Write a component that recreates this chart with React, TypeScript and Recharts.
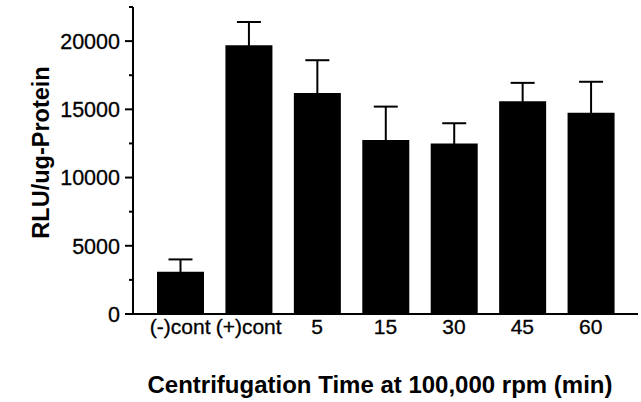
import { BarChart, Bar, XAxis, YAxis, ErrorBar } from 'recharts'

const categories = ['(-)cont', '(+)cont', '5', '15', '30', '45', '60']
const rluMeans = [3100, 19700, 16200, 12750, 12500, 15600, 14750]
const rluUpperErr = [900, 1700, 2400, 2450, 1480, 1340, 2270]
const yTicks = [0, 2500, 5000, 7500, 10000, 12500, 15000, 17500, 20000, 22500]

// only the upper whisker is shown; the lower one is run down to the baseline
// so it hides inside the black bar and under the axis line
const chartData = categories.map((name, i) => ({
  name,
  rlu: rluMeans[i],
  err: [rluMeans[i], rluUpperErr[i]],
}))

const font = '"Liberation Sans", Arial, Helvetica, sans-serif'

function YTick({ x, y, payload }: any) {
  const major = payload.value % 5000 === 0
  return (
    <g>
      <line x1={x - (major ? 8 : 4)} x2={x} y1={y} y2={y} stroke="#000" strokeWidth={2} />
      {major && (
        <text
          x={x - 13}
          y={y}
          dy="0.36em"
          textAnchor="end"
          fontFamily={font}
          fontSize={21.5}
          fill="#000"
          stroke="#000"
          strokeWidth={0.3}
        >
          {payload.value}
        </text>
      )}
    </g>
  )
}

function XTick({ x, y, payload }: any) {
  return (
    <text
      x={x}
      y={y}
      dy="0.71em"
      textAnchor="middle"
      fontFamily={font}
      fontSize={21}
      fill="#000"
      stroke="#000"
      strokeWidth={0.3}
    >
      {payload.value}
    </text>
  )
}

function YLabel({ viewBox }: any) {
  const cy = viewBox.y + viewBox.height / 2 - 8
  return (
    <text
      x={49}
      y={cy}
      transform={`rotate(-90, 49, ${cy})`}
      textAnchor="middle"
      fontFamily={font}
      fontSize={23.5}
      fontWeight="bold"
      fill="#000"
    >
      RLU/ug-Protein
    </text>
  )
}

function XLabel() {
  return (
    <text x={380} y={393} textAnchor="middle" fontFamily={font} fontSize={24} fontWeight="bold" fill="#000">
      Centrifugation Time at 100,000 rpm (min)
    </text>
  )
}

export default function App() {
  return (
    <div style={{ width: 641, height: 402, background: '#fff' }}>
      <style>{'body { margin: 0; }'}</style>
      <BarChart width={641} height={402} data={chartData} margin={{ top: 7, right: 3, left: 0, bottom: 0 }}>
        <XAxis
          dataKey="name"
          height={88}
          padding={{ left: 13, right: 13 }}
          axisLine={{ stroke: '#000', strokeWidth: 2 }}
          tickLine={false}
          tickSize={0}
          tickMargin={5}
          tick={<XTick />}
          interval={0}
          label={<XLabel />}
        />
        <YAxis
          width={133}
          domain={[0, 22500]}
          ticks={yTicks}
          interval={0}
          axisLine={{ stroke: '#000', strokeWidth: 2 }}
          tickLine={false}
          tickSize={0}
          tickMargin={0}
          tick={<YTick />}
          label={<YLabel />}
        />
        <Bar dataKey="rlu" fill="#000" barSize={47} isAnimationActive={false}>
          <ErrorBar dataKey="err" direction="y" width={12} stroke="#000" strokeWidth={2} isAnimationActive={false} />
        </Bar>
      </BarChart>
    </div>
  )
}
